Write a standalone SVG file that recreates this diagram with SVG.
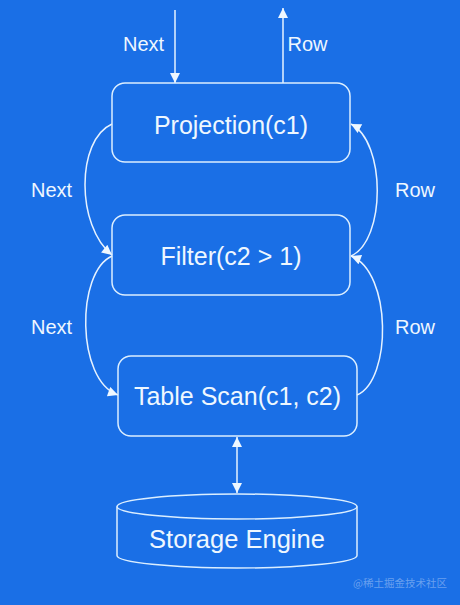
<svg xmlns="http://www.w3.org/2000/svg" width="460" height="605" viewBox="0 0 460 605">
  <style>
    .box { fill: none; stroke: #dbeeff; stroke-width: 1.5; }
    .edge { fill: none; stroke: #e6f2ff; stroke-width: 1.5; }
    .t { font-family: "Liberation Sans", "Noto Sans", sans-serif; fill: #eef7ff; text-anchor: middle; }
    .big { font-size: 25px; }
    .lbl { font-size: 20px; }
    .wm { font-family: "Noto Sans CJK SC", "Liberation Sans", sans-serif; font-size: 10.5px; fill: #ffffff; fill-opacity: 0.35; text-anchor: middle; }
  </style>
  <defs>
    <marker id="ah" viewBox="0 0 10 10" refX="10" refY="5" markerWidth="11" markerHeight="10" markerUnits="userSpaceOnUse" orient="auto-start-reverse">
      <path d="M0,0 L10,5 L0,10 Z" fill="#eef7ff"/>
    </marker>
  </defs>
  <rect width="460" height="605" fill="#1a6fe6"/>

  <g id="connectors">
    <line class="edge" x1="175" y1="10" x2="175" y2="83" marker-end="url(#ah)"/>
    <line class="edge" x1="283" y1="83" x2="283" y2="8" marker-end="url(#ah)"/>
    <path class="edge" d="M112,124 C76,140 76,226 112,255" marker-end="url(#ah)"/>
    <path class="edge" d="M112,256 C76,272 76,380 118,395" marker-end="url(#ah)"/>
    <path class="edge" d="M351,256 C386,240 386,142 351,124" marker-end="url(#ah)"/>
    <path class="edge" d="M357,395 C392,380 392,272 351,256" marker-end="url(#ah)"/>
    <line class="edge" x1="237" y1="437" x2="237" y2="493" marker-start="url(#ah)" marker-end="url(#ah)"/>
    <text class="t lbl" x="143.5" y="51">Next</text>
    <text class="t lbl" x="307.5" y="51">Row</text>
    <text class="t lbl" x="51.5" y="197">Next</text>
    <text class="t lbl" x="51.5" y="334">Next</text>
    <text class="t lbl" x="415" y="197">Row</text>
    <text class="t lbl" x="415" y="334">Row</text>
  </g>

  <g id="projection">
    <rect class="box" x="112" y="83" width="238" height="79" rx="13"/>
    <text class="t big" x="231" y="133.5">Projection(c1)</text>
  </g>
  <g id="filter">
    <rect class="box" x="112" y="215" width="238" height="80" rx="13"/>
    <text class="t big" x="231" y="265">Filter(c2 &gt; 1)</text>
  </g>
  <g id="tablescan">
    <rect class="box" x="118" y="356" width="239" height="80" rx="13"/>
    <text class="t big" x="237.5" y="405">Table Scan(c1, c2)</text>
  </g>
  <g id="storage">
    <path class="box" d="M117,506.5 L117,555.5 A120,12.5 0 0 0 357,555.5 L357,506.5"/>
    <ellipse class="box" cx="237" cy="506.5" rx="120" ry="12.5"/>
    <text class="t big" x="237" y="548" style="font-size:25.5px">Storage Engine</text>
  </g>

  <text class="wm" x="400" y="587">@稀土掘金技术社区</text>
</svg>
